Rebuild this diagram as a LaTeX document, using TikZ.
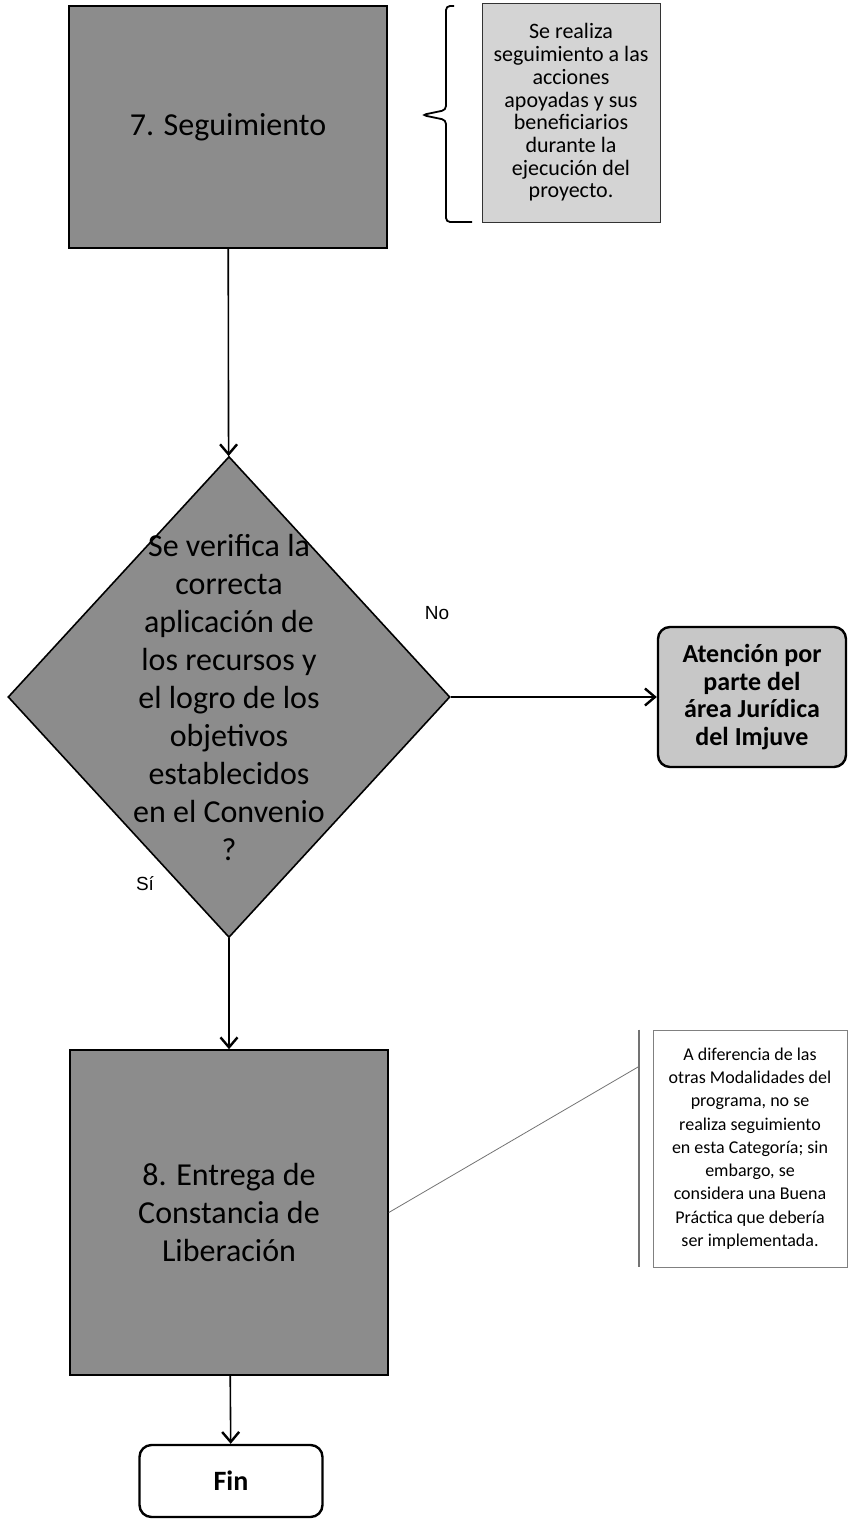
\documentclass[tikz,border=0pt]{standalone}
\usepackage{fontspec}
\setmainfont{Carlito}
\newfontfamily\arialfont{Liberation Sans}
\usetikzlibrary{shapes.geometric,arrows.meta}

\tikzset{
  proc/.style={draw=black, line width=0.8pt, fill=black!45, minimum width=159pt, align=center, font=\fontsize{16}{19}\selectfont},
  note/.style={draw=black!80, fill=black!17, align=center, inner sep=2pt},
  term/.style={draw=black, line width=1.2pt, rounded corners=6pt, align=center},
  flow/.style={->, line width=0.8pt},
  lbl/.style={font=\arialfont\fontsize{9.5}{11}\selectfont}
}

\begin{document}
\begin{tikzpicture}[x=0.5pt, y=-0.5pt, >={Straight Barb[length=5pt,width=8.5pt,line width=1.2pt]}]
\useasboundingbox (0,0) rectangle (849,1519);

% Steps of the process
\node[proc, minimum height=121pt] (seg) at (228,127) {7. Seguimiento};
\node[draw, diamond, line width=0.8pt, fill=black!45, minimum width=221pt, minimum height=240.5pt, inner sep=0pt] (verif) at (229,697) {};
\node[align=center, font=\fontsize{16}{19}\selectfont] (veriftxt) at (verif) {Se verifica la\\correcta\\aplicación de\\los recursos y\\el logro de los\\objetivos\\establecidos\\en el Convenio\\?};
\node[term, fill=black!22, minimum width=94pt, minimum height=70pt, font=\bfseries\fontsize{13}{13.7}\selectfont] (jur) at (752,697) {Atención por\\parte del\\área Jurídica\\del Imjuve};
\node[proc, minimum height=162.5pt] (lib) at (229,1212.5) {8. Entrega de\\Constancia de\\Liberación};
\node[term, fill=white, minimum width=91.5pt, minimum height=36pt, font=\bfseries\fontsize{14}{16}\selectfont] (fin) at (231,1481) {Fin};

% Flow
\draw[flow] (seg) -- (verif);
\draw[flow] (verif) -- (jur);
\draw[flow] (verif) -- (lib);
\draw[flow] (lib) -- (fin);
\node[lbl] (no) at (437,613) {No};
\node[lbl] (si) at (145,884) {Sí};

% Side notes
\node[note, minimum width=89pt, minimum height=109.5pt, font=\fontsize{11}{11.35}\selectfont] (obs1) at (571,112.5) {Se realiza\\seguimiento a las\\acciones\\apoyadas y sus\\beneficiarios\\durante la\\ejecución del\\proyecto.};
\draw[line width=0.9pt, rounded corners=2pt] (454,6) -| (446,110) -- (422,115) -- (446,120) |- (472,222);

\node[note, draw=black!50, fill=white, minimum width=97pt, minimum height=118.5pt, font=\fontsize{9}{11.65}\selectfont] (obs2) at (750,1148.5) {A diferencia de las\\otras Modalidades del\\programa, no se\\realiza seguimiento\\en esta Categoría; sin\\embargo, se\\considera una Buena\\Práctica que debería\\ser implementada.};
\draw[black!55, line width=1pt] ([xshift=-7pt]obs2.north west) coordinate (bartop) -- ([xshift=-7pt]obs2.south west) coordinate (barbot);
\coordinate (hook) at (638,1067);
\draw[black!55] (lib.east) -- (hook);

\end{tikzpicture}
\end{document}
